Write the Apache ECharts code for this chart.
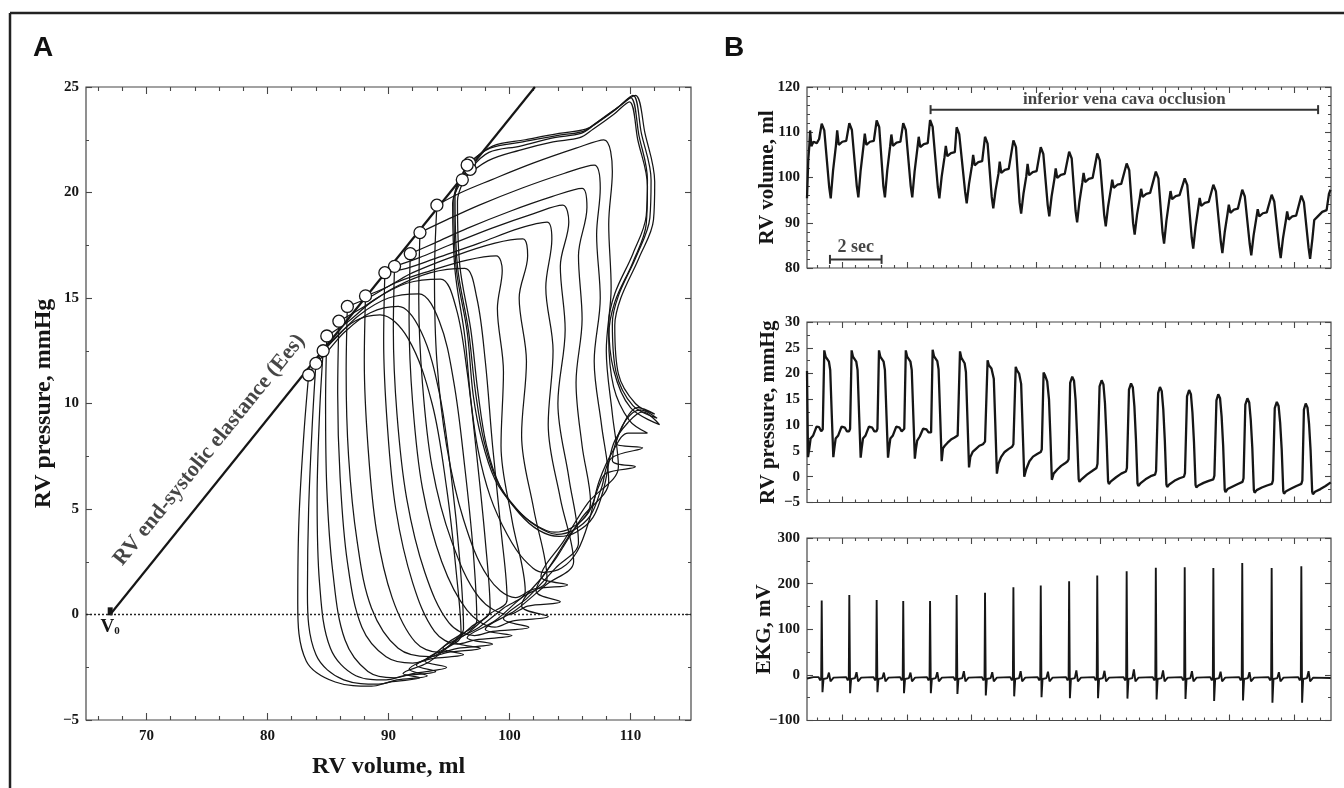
<!DOCTYPE html>
<html><head><meta charset="utf-8">
<script src="https://cdn.jsdelivr.net/npm/echarts@6/dist/echarts.min.js"></script>
<style>html,body{margin:0;padding:0;background:#fff;}#chart{width:1344px;height:788px;}</style>
</head><body><div id="chart"></div>
<script>
// ---------- Panel A: tick values ----------
const aVolumeMajorTicks = [70, 80, 90, 100, 110];
const aVolumeMinorTicks = [66, 68, 72, 74, 76, 78, 82, 84, 86, 88, 92, 94, 96, 98, 102, 104, 106, 108, 112, 114];

// ---------- Panel A: pressure-volume loops (volume ml, pressure mmHg) ----------
const pvLoop01 = [[96.7,21.4],[95.5,19.8],[95.7,16.5],[96.6,13.5],[97.2,10.5],[97.9,8.2],[99.0,6.3],[100.6,5.0],[102.2,4.2],[103.9,3.8],[105.3,4.0],[106.7,4.7],[107.6,6.0],[108.4,7.4],[111.0,7.9],[108.8,8.1],[109.6,9.2],[110.8,9.7],[112.2,9.3],[110.2,9.9],[108.8,11.5],[108.5,13.8],[109.0,15.1],[110.5,17.0],[111.6,18.8],[111.7,20.6],[110.9,22.8],[110.2,24.6],[108.9,24.0],[107.2,23.3],[106.1,22.9],[103.9,22.7],[101.1,22.4],[98.4,22.1],[96.7,21.4]];
const pvLoop02 = [[96.75,21.1],[95.7,19.6],[95.9,16.5],[96.8,13.5],[97.4,10.5],[98.1,8.0],[99.2,6.1],[100.8,4.8],[102.4,4.0],[104.1,3.7],[105.5,3.9],[106.9,4.6],[107.8,6.0],[108.6,8.1],[109.8,9.1],[111.0,9.6],[112.4,9.0],[110.0,9.8],[108.6,11.6],[108.2,13.8],[108.7,15.2],[110.2,17.1],[111.3,18.9],[111.4,20.6],[110.7,22.7],[110.0,24.5],[108.7,23.9],[107.0,23.2],[105.9,22.8],[103.7,22.6],[100.9,22.2],[98.3,21.9],[96.75,21.1]];
const pvLoop03 = [[96.5,21.3],[95.4,19.7],[95.6,16.4],[96.5,13.4],[97.0,10.4],[97.7,8.3],[98.8,6.4],[100.4,5.1],[102.0,4.3],[103.7,3.9],[105.1,4.1],[106.5,4.8],[107.4,6.1],[108.0,6.7],[110.4,7.0],[108.5,7.3],[109.4,9.0],[110.6,9.8],[112.0,9.5],[110.4,10.0],[109.0,11.4],[108.7,13.7],[109.2,15.0],[110.7,16.9],[111.9,18.7],[112.0,20.5],[111.2,22.8],[110.4,24.6],[109.1,24.1],[107.4,23.4],[106.3,23.0],[104.1,22.8],[101.3,22.5],[98.6,22.2],[96.5,21.3]];
const pvLoop04 = [[96.1,20.6],[95.3,19.5],[95.5,16.3],[96.3,13.2],[96.8,10.2],[97.4,7.8],[98.4,5.6],[99.8,3.8],[101.2,2.6],[102.8,2.0],[104.3,2.2],[105.6,3.0],[106.6,4.5],[107.4,6.3],[108.6,7.8],[109.8,8.6],[111.4,8.6],[109.9,9.2],[108.6,10.8],[108.2,13.2],[108.7,14.8],[110.2,16.7],[111.3,18.5],[111.4,20.3],[110.6,22.5],[109.9,24.3],[108.6,23.7],[106.9,23.0],[105.8,22.6],[103.6,22.4],[100.8,22.0],[98.2,21.5],[96.1,20.6]];
const pvLoop05 = [[94.0,19.4],[93.8,16.0],[94.0,12.0],[94.8,8.0],[96.2,4.5],[98.2,1.8],[100.5,0.8],[102.0,1.2],[104.8,1.4],[102.6,1.8],[104.5,3.5],[106.5,5.3],[109.0,7.0],[108.5,9.5],[108.0,12.5],[108.4,15.5],[108.2,18.5],[108.5,21.0],[107.8,22.5],[105.5,22.1],[102.0,21.4],[98.5,20.6],[96.0,20.0],[94.0,19.4]];
const pvLoop06 = [[92.6,18.1],[92.5,15.0],[92.8,11.0],[93.6,7.0],[95.2,3.5],[97.5,0.8],[100.0,0.0],[101.5,0.4],[104.2,0.6],[102.2,1.1],[104.0,2.8],[106.0,4.6],[108.2,6.3],[107.6,9.0],[107.0,12.0],[107.5,15.0],[107.2,18.0],[107.5,20.2],[107.0,21.3],[104.5,20.9],[101.0,20.2],[97.5,19.4],[94.8,18.7],[92.6,18.1]];
const pvLoop07 = [[91.8,17.1],[91.7,14.0],[92.0,10.0],[92.8,6.0],[94.4,2.5],[96.5,0.2],[98.8,-0.6],[100.3,-0.3],[103.2,-0.1],[101.0,0.4],[103.0,2.0],[105.0,3.8],[106.7,5.3],[106.0,8.0],[105.5,11.0],[106.0,14.0],[105.7,17.0],[106.4,19.3],[106.0,20.2],[103.5,19.8],[100.0,19.1],[96.5,18.3],[93.8,17.6],[91.8,17.1]];
const pvLoop08 = [[90.5,16.5],[90.4,13.5],[90.7,9.5],[91.5,5.5],[93.0,2.0],[95.0,-0.4],[97.1,-1.0],[98.6,-0.8],[101.6,-0.6],[99.5,-0.2],[101.5,0.8],[103.8,2.2],[105.7,3.4],[104.9,6.5],[104.0,10.0],[104.6,13.5],[104.2,16.5],[104.9,18.6],[104.4,19.4],[102.0,19.0],[98.5,18.3],[95.0,17.5],[92.5,16.9],[90.5,16.5]];
const pvLoop09 = [[89.7,16.2],[89.6,13.0],[89.9,9.0],[90.6,5.0],[92.0,1.5],[93.8,-0.8],[95.7,-1.4],[97.2,-1.2],[100.2,-1.0],[98.0,-0.7],[100.5,0.2],[103.0,1.4],[105.3,2.5],[104.2,5.5],[103.2,9.0],[103.6,12.5],[103.0,15.5],[103.5,17.8],[103.1,18.6],[100.8,18.3],[97.5,17.6],[94.0,16.9],[91.5,16.4],[89.7,16.2]];
const pvLoop10 = [[88.1,15.1],[88.0,12.0],[88.3,8.0],[89.0,4.0],[90.3,0.8],[92.2,-1.3],[94.2,-1.8],[95.7,-1.6],[98.6,-1.4],[96.5,-1.1],[98.8,-0.3],[101.0,0.8],[103.1,1.7],[102.0,5.0],[101.0,8.5],[101.4,12.0],[100.8,15.0],[101.5,17.0],[101.1,17.8],[98.8,17.6],[95.5,17.0],[92.0,16.2],[89.8,15.5],[88.1,15.1]];
const pvLoop11 = [[86.6,14.6],[86.5,11.5],[86.7,7.5],[87.4,3.5],[88.6,0.3],[90.8,-1.6],[93.4,-2.0],[94.9,-1.8],[97.6,-1.6],[95.5,-1.3],[97.5,-0.6],[99.5,0.3],[101.3,1.1],[100.2,4.5],[99.3,8.0],[99.5,11.5],[99.0,14.5],[99.4,16.3],[98.9,17.0],[96.5,16.8],[93.5,16.3],[90.5,15.7],[88.3,15.0],[86.6,14.6]];
const pvLoop12 = [[85.9,13.9],[85.8,10.5],[86.0,6.5],[86.6,2.5],[87.8,-0.6],[89.8,-2.0],[92.0,-2.3],[93.5,-2.1],[96.2,-1.9],[94.5,-1.6],[96.5,-0.9],[98.3,0.0],[99.8,0.7],[99.3,4.0],[98.6,8.0],[98.0,12.0],[97.3,15.0],[96.3,16.4],[93.5,16.2],[90.5,15.5],[88.0,14.6],[85.9,13.9]];
const pvLoop13 = [[84.9,13.2],[84.8,10.0],[84.9,6.0],[85.4,2.0],[86.4,-1.2],[88.3,-2.7],[90.5,-3.0],[92.0,-2.8],[94.8,-2.5],[93.0,-2.2],[95.0,-1.5],[96.8,-0.6],[98.4,0.2],[98.0,3.5],[97.3,7.5],[96.5,11.5],[95.6,14.5],[94.3,15.9],[91.5,15.7],[88.8,14.9],[86.7,13.9],[84.9,13.2]];
const pvLoop14 = [[84.6,12.5],[84.3,9.5],[84.1,5.5],[84.3,1.5],[85.2,-1.6],[87.3,-2.9],[89.8,-3.1],[91.3,-2.9],[93.9,-2.7],[92.3,-2.4],[94.3,-1.8],[95.9,-1.0],[97.3,-0.3],[97.0,3.0],[96.3,7.0],[95.4,11.0],[94.2,13.9],[92.5,15.2],[90.0,15.0],[87.6,14.2],[85.8,13.2],[84.6,12.5]];
const pvLoop15 = [[84.0,11.9],[83.7,9.0],[83.4,5.0],[83.3,1.0],[84.0,-1.9],[86.3,-3.1],[89.2,-3.3],[90.7,-3.1],[93.2,-2.9],[91.7,-2.6],[93.5,-2.0],[95.0,-1.3],[96.2,-0.7],[95.9,2.5],[95.2,6.5],[94.2,10.5],[92.7,13.4],[90.8,14.6],[88.5,14.3],[86.4,13.4],[85.0,12.5],[84.0,11.9]];
const pvLoop16 = [[83.4,11.35],[83.0,8.5],[82.6,4.5],[82.5,0.5],[83.2,-2.2],[85.6,-3.2],[88.6,-3.4],[90.1,-3.2],[92.6,-3.0],[91.2,-2.8],[93.2,-2.3],[94.8,-1.6],[96.0,-1.0],[95.6,2.0],[94.8,6.0],[93.6,10.0],[91.6,13.1],[89.3,14.2],[87.2,13.9],[85.4,13.0],[84.2,12.1],[83.4,11.35]];
const pvLoops = [pvLoop01, pvLoop02, pvLoop03, pvLoop04, pvLoop05, pvLoop06, pvLoop07, pvLoop08, pvLoop09, pvLoop10, pvLoop11, pvLoop12, pvLoop13, pvLoop14, pvLoop15, pvLoop16];

// end-systolic points (circles), ESPVR line and V0
const endSystolicPoints = [[96.7,21.4],[96.1,20.6],[96.75,21.1],[96.5,21.3],[94.0,19.4],[92.6,18.1],[91.8,17.1],[90.5,16.5],[89.7,16.2],[88.1,15.1],[86.6,14.6],[85.9,13.9],[84.9,13.2],[84.6,12.5],[84.0,11.9],[83.4,11.35]];
const espvrLine = [[67.0,0],[102.1,25]];
const v0Point = [[67.0,0.15]];
const espvrLabelAt = [[75.2,7.8]];

// ---------- Panel B: time ticks (s) ----------
const bTimeMajorTicks = [1.38, 3.88, 6.38, 8.88, 11.38, 13.88, 16.38, 18.88];
const bTimeMinorTicks = [0.38,0.88,1.88,2.38,2.88,3.38,4.38,4.88,5.38,5.88,6.88,7.38,7.88,8.38,9.38,9.88,10.38,10.88,11.88,12.38,12.88,13.38,14.38,14.88,15.38,15.88,16.88,17.38,17.88,18.38,19.38,19.88];

// ---------- Panel B: RV volume (s, ml) ----------
const volumeTrace = [
[0.00,95.4],[0.05,104.0],[0.09,107.0],[0.12,110.4],[0.17,106.9],[0.25,107.9],[0.38,107.6],[0.47,108.5],
[0.57,111.9],[0.67,110.4],[0.86,97.9],[0.92,95.4],[1.01,101.5],[1.12,107.0],[1.17,110.4],[1.23,107.2],[1.37,107.9],[1.52,108.1],
[1.64,112.0],[1.74,110.5],[1.93,98.1],[1.99,95.6],[2.08,101.6],[2.19,107.0],[2.24,109.7],[2.30,107.2],[2.44,107.9],[2.59,108.1],
[2.70,112.6],[2.80,111.1],[2.96,98.1],[3.02,95.6],[3.11,101.5],[3.22,106.8],[3.27,109.5],[3.33,107.0],[3.47,107.7],[3.62,107.9],
[3.73,112.0],[3.83,110.5],[4.02,98.1],[4.08,95.6],[4.17,101.3],[4.28,106.5],[4.33,109.0],[4.39,106.7],[4.53,107.4],[4.68,107.6],
[4.77,112.7],[4.87,111.2],[5.07,97.9],[5.13,95.4],[5.22,100.2],[5.33,104.5],[5.38,107.0],[5.44,104.7],[5.58,105.4],[5.73,105.6],
[5.80,111.1],[5.90,109.6],[6.13,96.8],[6.19,94.3],[6.28,98.6],[6.39,102.5],[6.44,105.0],[6.50,102.7],[6.64,103.4],[6.79,103.6],
[6.90,109.0],[7.00,107.5],[7.16,95.7],[7.22,93.2],[7.31,97.2],[7.42,100.8],[7.47,103.5],[7.53,101.0],[7.67,101.7],[7.82,101.9],
[8.00,108.2],[8.10,106.7],[8.24,94.5],[8.30,92.0],[8.39,96.4],[8.50,100.3],[8.55,103.0],[8.61,100.5],[8.75,101.2],[8.90,101.4],
[9.06,106.7],[9.16,105.2],[9.33,93.9],[9.39,91.4],[9.48,95.8],[9.59,99.7],[9.64,102.0],[9.70,99.9],[9.84,100.6],[9.99,100.8],
[10.16,105.7],[10.26,104.2],[10.41,92.6],[10.47,90.1],[10.56,94.7],[10.67,98.8],[10.72,101.0],[10.78,99.0],[10.92,99.7],[11.07,99.9],
[11.25,105.3],[11.35,103.8],[11.52,91.7],[11.58,89.2],[11.67,93.6],[11.78,97.5],[11.83,99.5],[11.89,97.7],[12.03,98.4],[12.18,98.6],
[12.39,103.1],[12.49,101.6],[12.64,89.9],[12.70,87.4],[12.79,91.7],[12.90,95.5],[12.95,97.5],[13.01,95.7],[13.15,96.4],[13.30,96.6],
[13.52,101.3],[13.62,99.8],[13.78,87.9],[13.84,85.4],[13.93,90.4],[14.04,95.0],[14.09,97.0],[14.15,95.2],[14.29,95.9],[14.44,96.1],
[14.64,99.8],[14.74,98.3],[14.91,86.8],[14.97,84.3],[15.06,89.1],[15.17,93.5],[15.22,95.5],[15.28,93.7],[15.42,94.4],[15.57,94.6],
[15.75,98.4],[15.85,96.9],[16.04,85.8],[16.10,83.3],[16.19,87.9],[16.30,92.0],[16.35,94.0],[16.41,92.2],[16.55,92.9],[16.70,93.1],
[16.87,97.3],[16.97,95.8],[17.16,85.3],[17.22,82.8],[17.31,87.2],[17.42,91.2],[17.47,93.0],[17.53,91.4],[17.67,92.1],[17.82,92.3],
[18.01,96.2],[18.11,94.7],[18.30,84.7],[18.36,82.2],[18.45,86.6],[18.56,90.5],[18.61,92.5],[18.67,90.7],[18.81,91.4],[18.96,91.6],
[19.16,96.0],[19.26,94.5],[19.44,84.5],[19.50,82.0],[19.59,86.5],[19.66,90.6],[19.78,91.3],[19.97,92.4],[20.14,92.8],[20.23,96.4],[20.29,97.3]];

// ---------- Panel B: RV pressure (s, mmHg) ----------
const pressureTrace = [
[0.00,20.5],[0.02,12.0],[0.04,3.8],[0.09,5.5],[0.14,7.4],[0.24,8.0],[0.37,9.7],[0.47,9.6],[0.55,8.8],[0.60,9.0],
[0.61,9.2],[0.67,24.5],[0.72,23.3],[0.85,22.3],[0.90,20.7],[0.96,12.0],[1.02,3.8],[1.06,5.5],[1.11,7.4],[1.21,8.0],[1.34,9.7],[1.47,9.5],[1.55,8.8],[1.63,8.8],
[1.67,9.3],[1.73,24.5],[1.78,23.3],[1.91,22.3],[1.96,20.7],[2.02,12.0],[2.08,3.7],[2.12,5.5],[2.17,7.4],[2.27,8.0],[2.40,9.7],[2.53,9.5],[2.61,8.8],[2.69,8.8],
[2.73,9.3],[2.79,24.5],[2.84,23.3],[2.97,22.3],[3.02,20.7],[3.08,12.0],[3.14,3.7],[3.18,5.5],[3.23,7.4],[3.33,8.0],[3.46,9.7],[3.59,9.5],[3.67,8.8],[3.73,8.8],
[3.77,9.3],[3.83,24.5],[3.88,23.3],[4.01,22.3],[4.06,20.7],[4.12,12.0],[4.18,3.5],[4.22,5.3],[4.27,7.0],[4.37,7.8],[4.50,9.3],[4.63,9.2],[4.71,8.6],[4.78,8.5],
[4.81,8.6],[4.87,24.6],[4.92,23.4],[5.05,22.4],[5.10,20.8],[5.16,12.0],[5.22,3.0],[5.27,5.5],[5.34,6.0],[5.45,6.6],[5.58,7.2],[5.72,7.6],[5.84,8.0],
[5.87,8.2],[5.93,24.3],[5.98,23.1],[6.11,22.0],[6.16,20.3],[6.22,11.0],[6.28,1.8],[6.33,3.8],[6.42,4.8],[6.55,5.4],[6.68,6.0],[6.82,6.3],[6.90,6.8],
[6.94,7.0],[7.00,22.6],[7.05,21.6],[7.15,21.0],[7.24,19.0],[7.30,10.0],[7.36,0.6],[7.42,2.5],[7.52,3.8],[7.66,4.8],[7.82,5.4],[7.95,5.8],[8.00,6.3],
[8.03,6.3],[8.09,21.3],[8.14,20.6],[8.22,20.0],[8.30,18.0],[8.36,9.0],[8.42,0.0],[8.50,1.5],[8.62,3.0],[8.76,3.9],[8.92,4.4],[9.06,4.8],[9.10,5.3],
[9.11,5.3],[9.17,20.2],[9.23,19.6],[9.31,18.5],[9.38,15.0],[9.44,7.0],[9.49,-0.6],[9.56,0.6],[9.70,1.4],[9.85,2.1],[10.00,2.6],[10.10,3.0],[10.14,3.4],
[10.20,18.2],[10.28,19.4],[10.35,18.6],[10.41,14.9],[10.47,7.8],[10.53,-0.5],[10.56,-1.0],[10.64,-0.5],[10.85,0.4],[11.05,1.1],[11.22,1.7],[11.26,2.5],[11.29,2.2],
[11.34,17.5],[11.42,18.7],[11.49,17.9],[11.55,14.2],[11.61,7.5],[11.67,-0.9],[11.70,-1.4],[11.78,-0.9],[11.98,-0.1],[12.18,0.6],[12.36,1.0],[12.40,1.7],[12.43,1.4],
[12.48,16.9],[12.56,18.1],[12.63,17.3],[12.69,13.6],[12.75,7.2],[12.81,-1.3],[12.84,-1.8],[12.92,-1.3],[13.12,-0.5],[13.32,0.1],[13.49,0.4],[13.53,1.1],[13.56,0.8],
[13.61,16.2],[13.68,17.4],[13.75,16.6],[13.81,13.0],[13.87,6.9],[13.93,-1.5],[13.96,-2.0],[14.04,-1.5],[14.24,-0.8],[14.44,-0.3],[14.61,0.0],[14.65,0.7],[14.68,0.4],
[14.73,15.6],[14.81,16.8],[14.88,16.0],[14.94,12.4],[15.00,6.6],[15.06,-1.6],[15.09,-2.1],[15.17,-1.7],[15.37,-1.2],[15.57,-0.8],[15.75,-0.5],[15.79,0.2],[15.82,-0.1],
[15.87,14.8],[15.94,16.0],[16.01,15.2],[16.07,11.7],[16.13,6.0],[16.19,-2.5],[16.22,-3.0],[16.30,-2.4],[16.50,-1.9],[16.70,-1.4],[16.88,-1.0],[16.92,-0.3],[16.95,-0.6],
[16.99,14.0],[17.07,15.2],[17.14,14.4],[17.20,11.0],[17.26,5.6],[17.32,-2.6],[17.35,-3.1],[17.43,-2.6],[17.63,-2.1],[17.83,-1.7],[18.02,-1.4],[18.06,-0.7],[18.09,-1.0],
[18.13,13.3],[18.21,14.5],[18.28,13.7],[18.34,10.4],[18.40,5.2],[18.46,-2.8],[18.49,-3.3],[18.57,-2.8],[18.77,-2.3],[18.97,-1.8],[19.16,-1.4],[19.20,-0.7],[19.23,-1.0],
[19.26,13.0],[19.33,14.2],[19.40,13.4],[19.46,10.2],[19.52,5.0],[19.58,-2.9],[19.61,-3.4],[19.69,-2.9],[19.90,-2.4],[20.10,-1.8],[20.30,-1.1]];

// ---------- Panel B: EKG (s, mV) ----------
const ekgTrace = [
[0.00,-8],[0.25,-5],
[0.45,-5],[0.51,-12],[0.55,-6],[0.57,163],[0.60,-38],[0.64,-9],[0.79,-7],[0.85,5],[0.91,-14],[1.03,-6],
[1.52,-5],[1.58,-12],[1.62,-6],[1.64,175],[1.67,-40],[1.71,-9],[1.86,-7],[1.92,6],[1.98,-14],[2.10,-6],
[2.58,-5],[2.64,-12],[2.68,-6],[2.70,164],[2.73,-38],[2.77,-9],[2.92,-7],[2.98,5],[3.04,-14],[3.16,-6],
[3.61,-5],[3.67,-12],[3.71,-6],[3.73,162],[3.76,-40],[3.80,-9],[3.95,-7],[4.01,5],[4.07,-14],[4.19,-6],
[4.65,-5],[4.71,-12],[4.75,-6],[4.77,162],[4.80,-40],[4.84,-9],[4.99,-7],[5.05,6],[5.11,-14],[5.23,-6],
[5.68,-5],[5.74,-12],[5.78,-6],[5.80,175],[5.83,-42],[5.87,-9],[6.02,-7],[6.08,8],[6.14,-14],[6.26,-6],
[6.78,-5],[6.84,-12],[6.88,-6],[6.90,180],[6.93,-45],[6.97,-9],[7.12,-7],[7.18,6],[7.24,-14],[7.36,-6],
[7.88,-5],[7.94,-12],[7.98,-6],[8.00,192],[8.03,-47],[8.07,-9],[8.22,-7],[8.28,8],[8.34,-14],[8.46,-6],
[8.94,-5],[9.00,-12],[9.04,-6],[9.06,196],[9.09,-49],[9.13,-9],[9.28,-7],[9.34,7],[9.40,-14],[9.52,-6],
[10.04,-5],[10.10,-12],[10.14,-6],[10.16,205],[10.19,-51],[10.23,-9],[10.38,-7],[10.44,10],[10.50,-14],[10.62,-6],
[11.13,-5],[11.19,-12],[11.23,-6],[11.25,218],[11.28,-51],[11.32,-9],[11.47,-7],[11.53,9],[11.59,-14],[11.71,-6],
[12.27,-5],[12.33,-12],[12.37,-6],[12.39,227],[12.42,-52],[12.46,-9],[12.61,-7],[12.67,12],[12.73,-14],[12.85,-6],
[13.40,-5],[13.46,-12],[13.50,-6],[13.52,235],[13.55,-54],[13.59,-9],[13.74,-7],[13.80,10],[13.86,-14],[13.98,-6],
[14.52,-5],[14.58,-12],[14.62,-6],[14.64,236],[14.67,-53],[14.71,-9],[14.86,-7],[14.92,8],[14.98,-14],[15.10,-6],
[15.63,-5],[15.69,-12],[15.73,-6],[15.75,234],[15.78,-57],[15.82,-9],[15.97,-7],[16.03,7],[16.09,-14],[16.21,-6],
[16.75,-5],[16.81,-12],[16.85,-6],[16.87,245],[16.90,-56],[16.94,-9],[17.09,-7],[17.15,6],[17.21,-14],[17.33,-6],
[17.89,-5],[17.95,-12],[17.99,-6],[18.01,234],[18.04,-61],[18.08,-9],[18.23,-7],[18.29,6],[18.35,-14],[18.47,-6],
[19.04,-5],[19.10,-12],[19.14,-6],[19.16,238],[19.19,-61],[19.23,-9],[19.38,-7],[19.44,8],[19.50,-14],[19.62,-6],[20.30,-7]];

// annotations in panel B (data units)
const occlusionBar = [[4.79,115],[19.81,115]];
const occlusionLabelAt = [[12.3,117.3]];
const scaleBar2s = [[0.89,81.9],[2.89,81.9]];
const scaleLabelAt = [[1.89,84.6]];

// ---------- chart ----------
const SERIF = '"Liberation Serif","Times New Roman",Times,serif';
const SANS = '"Liberation Sans",Arial,Helvetica,sans-serif';
const INK = '#161616';
const AXC = '#474747';
const minusFmt = v => String(v).replace('-', '\u2212');

const grids = [
  {left: 86, top: 87, width: 605, height: 633},
  {left: 807, top: 87, width: 524, height: 181},
  {left: 807, top: 322, width: 524, height: 180.5},
  {left: 807, top: 538, width: 524, height: 182.5}
].map(g => Object.assign({show: true, borderColor: AXC, borderWidth: 1.2, backgroundColor: 'transparent', containLabel: false, outerBoundsMode: 'none'}, g));

function xAx(g, min, max, pos, ticks, len, labels, name) {
  const a = {type: 'value', gridIndex: g, min: min, max: max, position: pos,
    axisLine: {show: false, onZero: false}, splitLine: {show: false},
    axisTick: {show: true, inside: true, length: len, customValues: ticks, lineStyle: {color: AXC, width: 1.1}},
    axisLabel: {show: false}};
  if (labels) a.axisLabel = {show: true, customValues: labels, margin: 9, color: INK, fontFamily: SERIF, fontWeight: 'bold', fontSize: 15};
  if (name) Object.assign(a, {name: name, nameLocation: 'middle', nameGap: 35, nameMoveOverlap: false,
    nameTextStyle: {fontFamily: SERIF, fontWeight: 'bold', fontSize: 24, color: INK}});
  return a;
}
function yAx(g, min, max, interval, split, pos, labels, name, nameSize, nameGap, fontSize) {
  const a = {type: 'value', gridIndex: g, min: min, max: max, interval: interval, position: pos,
    axisLine: {show: false, onZero: false}, splitLine: {show: false}, minorSplitLine: {show: false},
    axisTick: {show: true, inside: true, length: 6, lineStyle: {color: AXC, width: 1.1}},
    minorTick: {show: true, splitNumber: split, length: 3, lineStyle: {color: AXC, width: 1}},
    axisLabel: {show: labels, margin: 7, color: INK, fontFamily: SERIF, fontWeight: 'bold', fontSize: fontSize || 15, formatter: minusFmt}};
  if (name) Object.assign(a, {name: name, nameLocation: 'middle', nameGap: nameGap, nameRotate: 90, nameMoveOverlap: false,
    nameTextStyle: {fontFamily: SERIF, fontWeight: 'bold', fontSize: nameSize, color: INK}});
  return a;
}

const xAxes = [
  xAx(0, 65, 115, 'bottom', aVolumeMajorTicks, 7, aVolumeMajorTicks, 'RV volume, ml'),
  xAx(0, 65, 115, 'bottom', aVolumeMinorTicks, 4),
  xAx(0, 65, 115, 'top', aVolumeMajorTicks, 7),
  xAx(0, 65, 115, 'top', aVolumeMinorTicks, 4)
];
for (let g = 1; g <= 3; g++) {
  xAxes.push(xAx(g, 0, 20.31, 'bottom', bTimeMajorTicks, 6));
  xAxes.push(xAx(g, 0, 20.31, 'bottom', bTimeMinorTicks, 3));
  xAxes.push(xAx(g, 0, 20.31, 'top', bTimeMajorTicks, 6));
  xAxes.push(xAx(g, 0, 20.31, 'top', bTimeMinorTicks, 3));
}
const yAxes = [
  yAx(0, -5, 25, 5, 2, 'left', true, 'RV pressure, mmHg', 24, 30, 15),
  yAx(0, -5, 25, 5, 2, 'right', false),
  yAx(1, 80, 120, 10, 5, 'left', true, 'RV volume, ml', 21, 29, 15),
  yAx(1, 80, 120, 10, 5, 'right', false),
  yAx(2, -5, 30, 5, 2, 'left', true, 'RV pressure, mmHg', 21, 28, 15),
  yAx(2, -5, 30, 5, 2, 'right', false),
  yAx(3, -100, 300, 100, 2, 'left', true, 'EKG, mV', 21, 32, 15),
  yAx(3, -100, 300, 100, 2, 'right', false)
];

const series = [];
pvLoops.forEach(loop => series.push({type: 'line', xAxisIndex: 0, yAxisIndex: 0, data: loop,
  showSymbol: false, smooth: 0.35, silent: true, z: 2, lineStyle: {color: INK, width: 1.25}}));

series.push({type: 'line', xAxisIndex: 0, yAxisIndex: 0, data: espvrLine, showSymbol: false, silent: true, z: 3,
  lineStyle: {color: INK, width: 2.2},
  markLine: {silent: true, symbol: ['none', 'none'], label: {show: false},
    lineStyle: {color: '#222', width: 1.4, type: [2, 2]}, data: [{yAxis: 0}]}});
series.push({type: 'scatter', xAxisIndex: 0, yAxisIndex: 0, data: v0Point, symbol: 'rect', symbolSize: [5, 8], z: 4,
  itemStyle: {color: INK, opacity: 1},
  label: {show: true, position: 'bottom', distance: 2, formatter: '{v|V}{s|0}',
    rich: {v: {fontFamily: SERIF, fontWeight: 'bold', fontSize: 19, color: INK},
           s: {fontFamily: SERIF, fontWeight: 'bold', fontSize: 11, color: INK, verticalAlign: 'bottom', padding: [6, 0, 0, 0]}}}});
series.push({type: 'scatter', xAxisIndex: 0, yAxisIndex: 0, data: endSystolicPoints, symbol: 'circle', symbolSize: 12, z: 5,
  itemStyle: {color: '#ffffff', borderColor: INK, borderWidth: 1.3, opacity: 1}});
series.push({type: 'scatter', xAxisIndex: 0, yAxisIndex: 0, data: espvrLabelAt, symbolSize: 1, z: 6,
  itemStyle: {color: 'rgba(0,0,0,0)'},
  label: {show: true, position: 'inside', rotate: 51, formatter: 'RV end-systolic elastance (Ees)',
    fontFamily: SERIF, fontWeight: 'bold', fontSize: 22, color: INK}});

series.push({type: 'line', xAxisIndex: 4, yAxisIndex: 2, data: volumeTrace, showSymbol: false, silent: true,
  lineStyle: {color: INK, width: 2.3}});
series.push({type: 'line', xAxisIndex: 4, yAxisIndex: 2, data: occlusionBar, symbol: 'rect', symbolSize: [2, 9], showSymbol: true, silent: true,
  lineStyle: {color: '#333', width: 2}, itemStyle: {color: '#333', opacity: 1}});
series.push({type: 'scatter', xAxisIndex: 4, yAxisIndex: 2, data: occlusionLabelAt, symbolSize: 1, itemStyle: {color: 'rgba(0,0,0,0)'},
  label: {show: true, position: 'inside', formatter: 'inferior vena cava occlusion', fontFamily: SERIF, fontWeight: 'bold', fontSize: 17, color: INK}});
series.push({type: 'line', xAxisIndex: 4, yAxisIndex: 2, data: scaleBar2s, symbol: 'rect', symbolSize: [2, 9], showSymbol: true, silent: true,
  lineStyle: {color: '#333', width: 2}, itemStyle: {color: '#333', opacity: 1}});
series.push({type: 'scatter', xAxisIndex: 4, yAxisIndex: 2, data: scaleLabelAt, symbolSize: 1, itemStyle: {color: 'rgba(0,0,0,0)'},
  label: {show: true, position: 'inside', formatter: '2 sec', fontFamily: SERIF, fontWeight: 'bold', fontSize: 18, color: INK}});

series.push({type: 'line', xAxisIndex: 8, yAxisIndex: 4, data: pressureTrace, showSymbol: false, silent: true,
  lineStyle: {color: INK, width: 2.3}});
series.push({type: 'line', xAxisIndex: 12, yAxisIndex: 6, data: ekgTrace, showSymbol: false, silent: true,
  lineStyle: {color: INK, width: 1.9}});

const chart = echarts.init(document.getElementById('chart'), null, {renderer: 'canvas'});
chart.setOption({
  animation: false,
  backgroundColor: '#fff',
  title: [
    {text: 'A', left: 33, top: 34, padding: 0, textStyle: {fontFamily: SANS, fontWeight: 'bold', fontSize: 28, color: '#111'}},
    {text: 'B', left: 724, top: 34, padding: 0, textStyle: {fontFamily: SANS, fontWeight: 'bold', fontSize: 28, color: '#111'}}
  ],
  graphic: [
    {type: 'line', shape: {x1: 10, y1: 13, x2: 1344, y2: 13}, style: {stroke: '#222', lineWidth: 2.5}},
    {type: 'line', shape: {x1: 10, y1: 13, x2: 10, y2: 788}, style: {stroke: '#222', lineWidth: 2.5}}
  ],
  grid: grids,
  xAxis: xAxes,
  yAxis: yAxes,
  series: series
});
</script></body></html>
